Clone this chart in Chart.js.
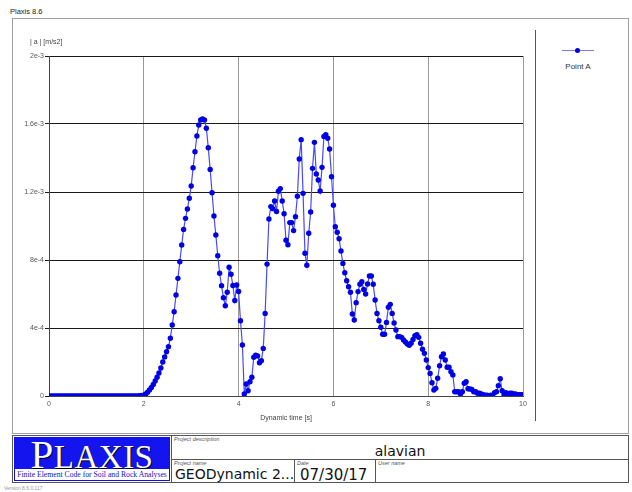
<!DOCTYPE html>
<html>
<head>
<meta charset="utf-8">
<script src="https://cdn.jsdelivr.net/npm/chart.js@4.4.1/dist/chart.umd.min.js"></script>
<style>
  body { margin: 0; width: 632px; height: 492px; background: #fff; position: relative; overflow: hidden;
         font-family: "Liberation Sans", Arial, sans-serif; }
  .abs { position: absolute; }
  #frame { left: 12px; top: 18px; width: 615px; height: 414px; border: 1px solid #a0a0a0; }
  #plot { left: 12px; top: 18px; }
  #legendSep { left: 535px; top: 30px; width: 0; height: 391px; border-left: 1px solid #555; }
  .small { font-size: 7px; color: #444; white-space: nowrap; }
  #legend { left: 545px; top: 40px; width: 66px; text-align: center; font-size: 8px; color: #333; }
  #legend .sym { position: relative; height: 22px; }
  #legend .sym .ln { position: absolute; left: 17px; right: 17px; top: 10px; border-top: 1px solid #7b7bf0; }
  #legend .sym .dot { position: absolute; left: 30px; top: 8px; width: 5px; height: 5px; border-radius: 50%; background: #0000e0; }
  #block { left: 12px; top: 435px; width: 615px; height: 46px; border: 1px solid #555; }
  #logo { left: 14px; top: 437px; width: 154px; height: 42px; border: 1px solid #1010e8; background: #fff; }
  #logo .blue { height: 31px; background: #1414ee; color: #fff; text-align: center; overflow: hidden;
                font-family: "Liberation Serif", serif; line-height: 33px; letter-spacing: 0.5px;
                text-shadow: 1px 1px 0 #000; }
  #logo .blue .big { font-size: 41px; }
  #logo .blue .sc { font-size: 33px; }
  #logo .sub { font-family: "Liberation Serif", serif; font-size: 7.7px; color: #1010d0; text-align: center;
               line-height: 11px; white-space: nowrap; }
  .vl { width: 0; border-left: 1px solid #555; }
  .hl { height: 0; border-top: 1px solid #555; }
  .lbl { font-size: 5.5px; font-style: italic; color: #555; white-space: nowrap; }
  .val { font-family: "DejaVu Sans", sans-serif; color: #111; white-space: nowrap; }
</style>
</head>
<body>
<div class="abs small" style="left:10px; top:7px; color:#222; font-size:7.5px;">Plaxis 8.6</div>
<div id="frame" class="abs"></div>
<div id="plot" class="abs"><canvas id="chart" width="523" height="415"></canvas></div>
<div class="abs small" style="left:30px; top:38px;">| a | [m/s2]</div>
<div id="legendSep" class="abs"></div>
<div id="legend" class="abs">
  <div class="sym"><div class="ln"></div><div class="dot"></div></div>
  <div id="legendText"></div>
</div>

<!-- title block -->
<div id="block" class="abs"></div>
<div id="logo" class="abs">
  <div class="blue"><span class="big">P</span><span class="sc">LAXIS</span></div>
  <div class="sub">Finite Element Code for Soil and Rock Analyses</div>
</div>
<div class="abs vl" style="left:171px; top:435px; height:47px;"></div>
<div class="abs hl" style="left:171px; top:459px; width:457px;"></div>
<div class="abs vl" style="left:294px; top:459px; height:23px;"></div>
<div class="abs vl" style="left:375px; top:459px; height:23px;"></div>
<div class="abs lbl" style="left:174px; top:436px;">Project description</div>
<div class="abs val" style="left:172px; width:456px; top:443px; text-align:center; font-size:14px;">alavian</div>
<div class="abs lbl" style="left:174px; top:460px;">Project name</div>
<div class="abs val" style="left:175px; top:466px; font-size:14px;">GEODynamic 2...</div>
<div class="abs lbl" style="left:297px; top:460px;">Date</div>
<div class="abs val" style="left:300px; top:466px; font-size:15px;">07/30/17</div>
<div class="abs lbl" style="left:378px; top:460px;">User name</div>
<div class="abs" style="left:4px; top:485px; font-size:5px; color:#999;">Version 8.6.0.117</div>

<script>
// dynamic time [s], sampled every 0.04 s
const time = [
  0.00,0.04,0.08,0.12,0.16,0.20,0.24,0.28,0.32,0.36,0.40,0.44,0.48,0.52,0.56,0.60,0.64,0.68,0.72,0.76,
  0.80,0.84,0.88,0.92,0.96,1.00,1.04,1.08,1.12,1.16,1.20,1.24,1.28,1.32,1.36,1.40,1.44,1.48,1.52,1.56,
  1.60,1.64,1.68,1.72,1.76,1.80,1.84,1.88,1.92,1.96,2.00,2.04,2.08,2.12,2.16,2.20,2.24,2.28,2.32,2.36,
  2.40,2.44,2.48,2.52,2.56,2.60,2.64,2.68,2.72,2.76,2.80,2.84,2.88,2.92,2.96,3.00,3.04,3.08,3.12,3.16,
  3.20,3.24,3.28,3.32,3.36,3.40,3.44,3.48,3.52,3.56,3.60,3.64,3.68,3.72,3.76,3.80,3.84,3.88,3.92,3.96,
  4.00,4.04,4.08,4.12,4.16,4.20,4.24,4.28,4.32,4.36,4.40,4.44,4.48,4.52,4.56,4.60,4.64,4.68,4.72,4.76,
  4.80,4.84,4.88,4.92,4.96,5.00,5.04,5.08,5.12,5.16,5.20,5.24,5.28,5.32,5.36,5.40,5.44,5.48,5.52,5.56,
  5.60,5.64,5.68,5.72,5.76,5.80,5.84,5.88,5.92,5.96,6.00,6.04,6.08,6.12,6.16,6.20,6.24,6.28,6.32,6.36,
  6.40,6.44,6.48,6.52,6.56,6.60,6.64,6.68,6.72,6.76,6.80,6.84,6.88,6.92,6.96,7.00,7.04,7.08,7.12,7.16,
  7.20,7.24,7.28,7.32,7.36,7.40,7.44,7.48,7.52,7.56,7.60,7.64,7.68,7.72,7.76,7.80,7.84,7.88,7.92,7.96,
  8.00,8.04,8.08,8.12,8.16,8.20,8.24,8.28,8.32,8.36,8.40,8.44,8.48,8.52,8.56,8.60,8.64,8.68,8.72,8.76,
  8.80,8.84,8.88,8.92,8.96,9.00,9.04,9.08,9.12,9.16,9.20,9.24,9.28,9.32,9.36,9.40,9.44,9.48,9.52,9.56,
  9.60,9.64,9.68,9.72,9.76,9.80,9.84,9.88,9.92,9.96,10.00
];

// |a| at Point A, in 1e-3 m/s2
const accelPointA = [
  0,0,0,0,0,0,0,0,0,0,0,0,0,0,0,0,0,0,0,0,
  0,0,0,0,0,0,0,0,0,0,0,0,0,0,0,0,0,0,0,0,
  0,0,0,0,0,0,0,0.001,0.002,0.003,0.005,0.012,0.022,0.035,0.050,0.068,0.088,0.110,0.135,0.165,
  0.200,0.230,0.260,0.290,0.340,0.418,0.496,0.594,0.692,0.790,0.888,0.980,1.045,1.100,1.163,1.235,1.343,1.437,1.529,1.594,
  1.624,1.629,1.624,1.575,1.461,1.333,1.196,1.059,0.947,0.825,0.722,0.649,0.578,0.531,0.610,0.757,0.716,0.650,0.562,0.653,
  0.615,0.443,0.300,0.012,0.071,0.031,0.084,0.110,0.228,0.240,0.236,0.196,0.208,0.280,0.486,0.776,1.041,1.114,1.102,1.147,
  1.086,1.204,1.220,1.147,1.072,0.916,0.890,1.020,1.020,0.973,1.055,1.175,1.394,1.508,1.192,0.840,0.769,0.957,1.082,1.339,
  1.492,1.306,1.271,1.206,1.345,1.527,1.537,1.516,1.453,1.290,1.122,0.996,0.963,0.925,0.853,0.780,0.725,0.678,0.643,0.610,
  0.482,0.447,0.549,0.614,0.657,0.672,0.627,0.600,0.659,0.706,0.706,0.657,0.565,0.486,0.443,0.404,0.363,0.363,0.433,0.522,
  0.539,0.486,0.429,0.388,0.349,0.349,0.345,0.329,0.318,0.306,0.298,0.310,0.333,0.355,0.361,0.345,0.310,0.275,0.251,0.212,
  0.167,0.133,0.078,0.035,0.045,0.104,0.178,0.231,0.247,0.212,0.169,0.169,0.143,0.124,0.025,0.025,0.025,0.012,0.025,0.075,
  0.084,0.043,0.041,0.039,0.025,0.025,0.016,0.016,0.012,0.008,0.004,0.004,0.002,0.004,0.002,0.020,0.025,0.061,0.102,0.031,
  0.008,0.020,0.008,0.016,0.016,0.012,0.012,0.008,0.008,0.008,0.008
];

const seriesName = 'Point A';
const yTickLabels = ['0', '4e-4', '8e-4', '1.2e-3', '1.6e-3', '2e-3'];
const xTitle = 'Dynamic time [s]';

const points = time.map((t, i) => ({ x: t, y: accelPointA[i] }));
const tickFont = { family: 'Liberation Sans', size: 7 };

new Chart(document.getElementById('chart'), {
  type: 'line',
  data: {
    datasets: [{
      label: seriesName,
      data: points,
      borderColor: '#4a4af5',
      borderWidth: 1.2,
      pointRadius: 2.7,
      pointBackgroundColor: '#0000e6',
      pointBorderWidth: 0,
      tension: 0
    }]
  },
  options: {
    responsive: false,
    animation: false,
    layout: { padding: { left: 0, right: 12, top: 38, bottom: 0 } },
    plugins: { legend: { display: false }, tooltip: { enabled: false } },
    scales: {
      x: {
        type: 'linear', min: 0, max: 10,
        afterFit: s => { s.height = 37; },
        ticks: { stepSize: 2, font: tickFont, color: '#555', padding: 4, maxRotation: 0 },
        grid: { color: '#9a9a9a', drawTicks: false },
        border: { color: '#444' },
        title: { display: true, text: xTitle, font: tickFont, color: '#444', padding: { top: 0, bottom: 11 } }
      },
      y: {
        min: 0, max: 2,
        afterFit: s => { s.width = 37; },
        ticks: { stepSize: 0.4, font: tickFont, color: '#555', padding: 1,
                 callback: (v, i) => yTickLabels[i] },
        grid: { color: '#1a1a1a', tickLength: 4 },
        border: { color: '#444' }
      }
    }
  }
});

document.getElementById('legendText').textContent = seriesName;
</script>
</body>
</html>
